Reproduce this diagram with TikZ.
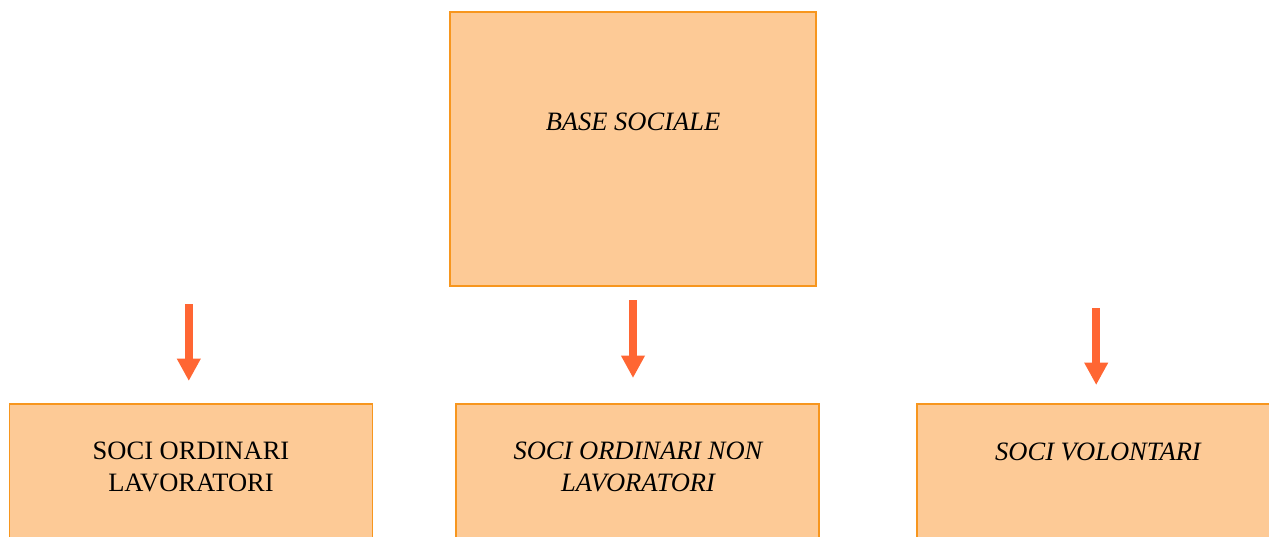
\documentclass[tikz,border=0pt]{standalone}
\usepackage{fontspec}
\setmainfont{Liberation Serif}
\usetikzlibrary{arrows.meta}
\definecolor{boxfill}{HTML}{FDCA96}
\definecolor{boxline}{HTML}{F7961E}
\definecolor{arrowc}{HTML}{FF6633}
\tikzset{
  box/.style={draw=boxline, fill=boxfill, line width=1.8pt, rectangle, inner sep=0pt},
  lbl/.style={text=black, font=\fontsize{26.5}{31.7}\selectfont, align=center, inner sep=0pt},
  bigarrow/.style={draw=arrowc, line width=7.5pt, -{Triangle[width=22.5pt,length=22.5pt]}}
}
\begin{document}
\begin{tikzpicture}[x=1pt,y=-1pt]
\useasboundingbox (0,0) rectangle (1269,536);
\clip (0,0) rectangle (1269,536);
% boxes
\node[box, minimum width=365.7pt, minimum height=274pt] (base) at (633,149) {};
\node[box, minimum width=363pt, minimum height=200pt] (lav) at (191,504) {};
\node[box, minimum width=363pt, minimum height=200pt] (nonlav) at (637.5,504) {};
\node[box, minimum width=380pt, minimum height=200pt] (vol) at (1107,504) {};
% labels
\node[lbl, anchor=base] (tbase) at (633,130.7) {\itshape BASE SOCIALE};
\node[lbl] (tlav) at (191,467.1) {SOCI ORDINARI\\LAVORATORI};
\node[lbl] (tnonlav) at (638,467.1) {\itshape SOCI ORDINARI NON\\\itshape LAVORATORI};
\node[lbl, anchor=base] (tvol) at (1098,460.7) {\itshape SOCI VOLONTARI};
% arrows
\coordinate (a1s) at (188.8,304);
\coordinate (a1e) at (188.8,381);
\coordinate (a2s) at (633,300);
\coordinate (a2e) at (633,378);
\coordinate (a3s) at (1096.2,308);
\coordinate (a3e) at (1096.2,385);
\draw[bigarrow] (a1s) -- (a1e);
\draw[bigarrow] (a2s) -- (a2e);
\draw[bigarrow] (a3s) -- (a3e);
\end{tikzpicture}
\end{document}
